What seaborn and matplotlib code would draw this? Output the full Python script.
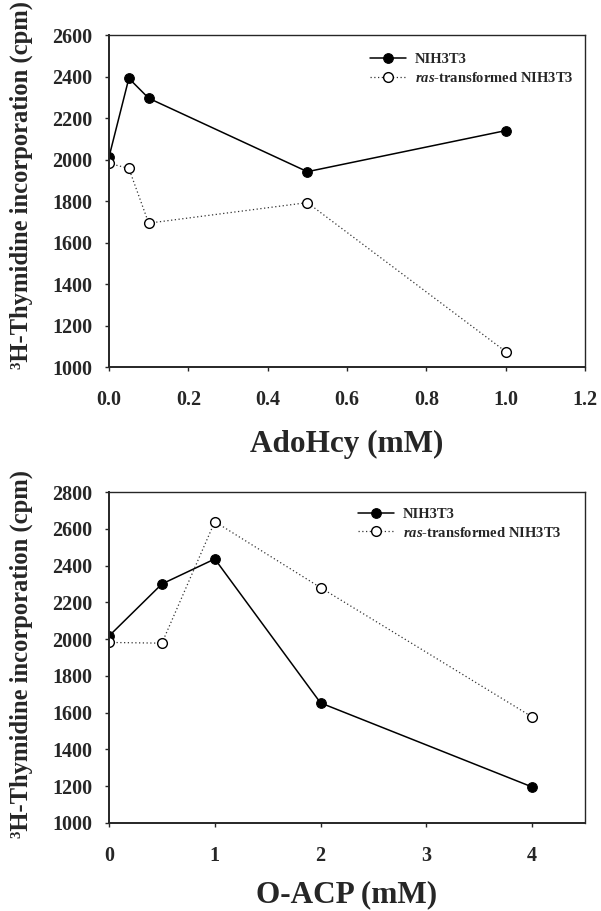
import matplotlib
matplotlib.use("Agg")
import matplotlib.pyplot as plt
import seaborn as sns
import pandas as pd

# ---- data ----
adohcy_x = [0.0, 0.05, 0.1, 0.5, 1.0]
adohcy_nih = [2013, 2392, 2296, 1942, 2140]
adohcy_ras = [1982, 1958, 1694, 1793, 1075]

oacp_x = [0, 0.5, 1, 2, 4]
oacp_nih = [2017, 2300, 2436, 1653, 1196]
oacp_ras = [1982, 1978, 2639, 2280, 1577]

series_names = ["NIH3T3", "$\\it{ras}$-transformed NIH3T3"]
ylabel = "³H-Thymidine incorporation (cpm)"
xlabel_top = "AdoHcy (mM)"
xlabel_bot = "O-ACP (mM)"
top_xticks = [0.0, 0.2, 0.4, 0.6, 0.8, 1.0, 1.2]
top_yticks = [1000, 1200, 1400, 1600, 1800, 2000, 2200, 2400, 2600]
bot_xticks = [0, 1, 2, 3, 4]
bot_yticks = [1000, 1200, 1400, 1600, 1800, 2000, 2200, 2400, 2600, 2800]

sns.set_style("ticks")
plt.rcParams["font.family"] = ["Liberation Serif", "DejaVu Serif"]
plt.rcParams["font.weight"] = "bold"
plt.rcParams["mathtext.fontset"] = "custom"
plt.rcParams["mathtext.rm"] = "Liberation Serif:bold"
plt.rcParams["mathtext.it"] = "Liberation Serif:bold:italic"

fig = plt.figure(figsize=(6.01, 9.11), dpi=100)
ax1 = fig.add_axes([0.1814, 0.597, 0.792, 0.3644])
ax2 = fig.add_axes([0.1814, 0.0966, 0.792, 0.3633])


def draw(ax, x, nih, ras, xticks, yticks, xlim, ylim, xlabel, xfmt,
         legend_anchor, xlabelpad, ylabel_y):
    df_n = pd.DataFrame({"x": x, "y": nih})
    df_r = pd.DataFrame({"x": x, "y": ras})
    sns.lineplot(data=df_n, x="x", y="y", ax=ax, color="black", lw=1.1,
                 marker="o", markersize=7, markerfacecolor="black",
                 markeredgecolor="black", label=series_names[0])
    sns.lineplot(data=df_r, x="x", y="y", ax=ax, color="#333333", lw=0.9,
                 linestyle=(0, (1, 2)), marker="o", markersize=7,
                 markerfacecolor="white", markeredgecolor="black",
                 markeredgewidth=1.0, label=series_names[1])
    ax.set_xlim(*xlim)
    ax.set_ylim(*ylim)
    ax.set_xticks(xticks)
    ax.set_yticks(yticks)
    ax.set_xticklabels([xfmt(v) for v in xticks], fontsize=14.5, fontweight="bold")
    ax.set_yticklabels([str(v) for v in yticks], fontsize=14.5, fontweight="bold")
    ax.set_xlabel(xlabel, fontsize=22.5, fontweight="bold", labelpad=xlabelpad)
    ax.set_ylabel(ylabel, fontsize=17.7, fontweight="bold")
    ax.yaxis.set_label_coords(-0.16, ylabel_y)
    ax.tick_params(axis="x", direction="out", length=3, width=1, pad=13.5)
    ax.tick_params(axis="y", direction="out", length=3, width=1, pad=9)
    for s in ["left", "bottom"]:
        ax.spines[s].set_linewidth(1.4)
    for s in ["top", "right"]:
        ax.spines[s].set_visible(True)
        ax.spines[s].set_linewidth(1.0)
    ax.legend(loc="upper left", bbox_to_anchor=legend_anchor, frameon=False,
              prop={"family": "Liberation Serif", "weight": "bold", "size": 10.5},
              handlelength=2.5, handletextpad=0.6, labelspacing=0.3,
              borderpad=0, borderaxespad=0)


draw(ax1, adohcy_x, adohcy_nih, adohcy_ras, top_xticks, top_yticks,
     (0, 1.2), (1000, 2600), xlabel_top, lambda v: f"{v:.1f}", (0.548, 0.946),
     14, 0.55)
draw(ax2, oacp_x, oacp_nih, oacp_ras, bot_xticks, bot_yticks,
     (0, 4.5), (1000, 2800), xlabel_bot, lambda v: f"{v:d}", (0.523, 0.952),
     10, 0.51)

fig.savefig("out.png", dpi=100)
